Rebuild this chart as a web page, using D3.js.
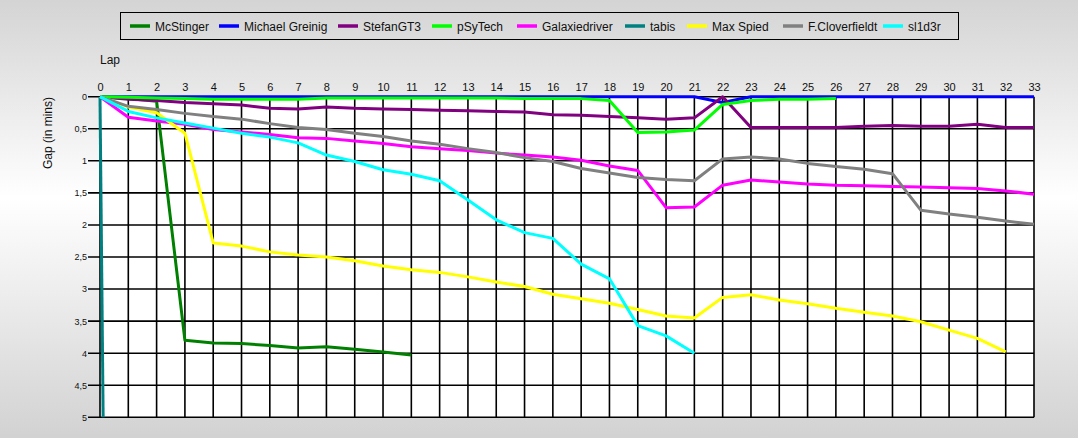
<!DOCTYPE html>
<html><head><meta charset="utf-8">
<script src="https://cdn.jsdelivr.net/npm/d3@7"></script>
<style>
html,body{margin:0;padding:0;overflow:hidden;}
svg{display:block;font-family:"Liberation Sans",Arial,sans-serif;}
</style></head>
<body>
<script>
const laps = d3.range(0, 34);
const xTicks = d3.range(0, 34);
const yTicks = [0, 0.5, 1, 1.5, 2, 2.5, 3, 3.5, 4, 4.5, 5];
const yTickLabels = ["0", "0,5", "1", "1,5", "2", "2,5", "3", "3,5", "4", "4,5", "5"];
const seriesNames = ["McStinger", "Michael Greinig", "StefanGT3", "pSyTech", "Galaxiedriver", "tabis", "Max Spied", "F.Cloverfieldt", "sl1d3r"];
const seriesColors = ["#008000", "#0000ff", "#800080", "#00ff00", "#ff00ff", "#008080", "#ffff00", "#808080", "#00ffff"];

const mcStinger = [0, 0.03, 0.07, 3.80, 3.84, 3.85, 3.88, 3.92, 3.90, 3.94, 3.98, 4.03];
const michaelGreinig = [0,0,0,0,0,0,0,0,0,0,0,0,0,0,0,0,0,0,0,0,0,0,0.09,0,0,0,0,0,0,0,0,0,0,0];
const stefanGT3 = [0, 0.04, 0.06, 0.09, 0.11, 0.13, 0.18, 0.19, 0.16, 0.18, 0.19, 0.20, 0.21, 0.22, 0.23, 0.24, 0.28, 0.29, 0.31, 0.33, 0.35, 0.33, 0, 0.48, 0.48, 0.48, 0.48, 0.46, 0.45, 0.46, 0.46, 0.43, 0.48, 0.48];
const pSyTech = [0, 0.01, 0.02, 0.03, 0.04, 0.04, 0.04, 0.04, 0.02, 0.02, 0.02, 0.02, 0.02, 0.02, 0.02, 0.03, 0.03, 0.03, 0.06, 0.56, 0.55, 0.52, 0.12, 0.06, 0.04, 0.04, 0.03];
const galaxiedriver = [0, 0.32, 0.38, 0.43, 0.51, 0.55, 0.59, 0.64, 0.65, 0.69, 0.73, 0.78, 0.81, 0.84, 0.88, 0.91, 0.94, 0.99, 1.08, 1.15, 1.73, 1.72, 1.38, 1.30, 1.33, 1.36, 1.38, 1.39, 1.40, 1.41, 1.42, 1.43, 1.47, 1.52];
const tabis = [0, 45];
const maxSpied = [0, 0.16, 0.25, 0.57, 2.28, 2.33, 2.42, 2.47, 2.50, 2.56, 2.64, 2.70, 2.74, 2.81, 2.89, 2.96, 3.08, 3.15, 3.22, 3.32, 3.42, 3.45, 3.13, 3.09, 3.17, 3.23, 3.30, 3.36, 3.42, 3.51, 3.64, 3.77, 3.98];
const fCloverfieldt = [0, 0.15, 0.20, 0.26, 0.31, 0.35, 0.42, 0.48, 0.51, 0.57, 0.62, 0.69, 0.74, 0.81, 0.87, 0.95, 1.01, 1.12, 1.19, 1.26, 1.29, 1.31, 0.97, 0.94, 0.97, 1.04, 1.09, 1.13, 1.20, 1.77, 1.83, 1.88, 1.94, 1.99];
const sl1d3r = [0, 0.23, 0.33, 0.41, 0.49, 0.57, 0.63, 0.72, 0.91, 1.01, 1.14, 1.21, 1.31, 1.61, 1.92, 2.12, 2.21, 2.61, 2.84, 3.57, 3.73, 4.00];

const seriesValues = [mcStinger, michaelGreinig, stefanGT3, pSyTech, galaxiedriver, tabis, maxSpied, fCloverfieldt, sl1d3r];

const W = 1078, H = 438;
const svg = d3.select("body").append("svg").attr("width", W).attr("height", H);
const defs = svg.append("defs");
const grad = defs.append("linearGradient").attr("id","bg").attr("x1",0).attr("y1",0).attr("x2",0).attr("y2",1);
grad.append("stop").attr("offset","0%").attr("stop-color","#d4d4d4");
grad.append("stop").attr("offset","45%").attr("stop-color","#ffffff");
grad.append("stop").attr("offset","100%").attr("stop-color","#d2d2d2");
svg.append("rect").attr("width",W).attr("height",H).attr("fill","url(#bg)");

const L = 100, R = 1034, T = 96.7, B = 417.3;
const x = d3.scaleLinear().domain([0, 33]).range([L, R]);
const y = d3.scaleLinear().domain([0, 5]).range([T, B]);

defs.append("clipPath").attr("id","clip").append("rect")
  .attr("x", L - 2).attr("y", T - 2).attr("width", R - L + 4).attr("height", B - T + 2);

svg.append("rect").attr("x",L).attr("y",T).attr("width",R-L).attr("height",B-T).attr("fill","#fff");

// grid
const grid = svg.append("g").attr("stroke","#000").attr("stroke-width",1.6);
grid.selectAll("line.v").data(xTicks).join("line")
  .attr("x1", d=>x(d)).attr("x2", d=>x(d)).attr("y1", T).attr("y2", B);
grid.selectAll("line.h").data(yTicks).join("line")
  .attr("x1", L - 12).attr("x2", R).attr("y1", d=>y(d)).attr("y2", d=>y(d));

// top axis labels
const xAxis = d3.axisTop(x).tickValues(xTicks).tickSize(0).tickPadding(6).tickFormat(d3.format("d"));
const gx = svg.append("g").attr("transform",`translate(0,${T})`).call(xAxis);
gx.select(".domain").remove();
gx.selectAll("text").attr("font-size", 11).attr("fill","#111").attr("font-family","Liberation Sans, Arial, sans-serif");

// left axis labels
const yAxis = d3.axisLeft(y).tickValues(yTicks).tickSize(0).tickPadding(13).tickFormat((d,i)=>yTickLabels[i]);
const gy = svg.append("g").attr("transform",`translate(${L},0)`).call(yAxis);
gy.select(".domain").remove();
gy.selectAll("text").attr("font-size", 9).attr("fill","#111").attr("font-family","Liberation Sans, Arial, sans-serif");

svg.append("text").attr("x", 100).attr("y", 64).attr("font-size", 12).attr("fill","#111").text("Lap");
svg.append("text").attr("transform","translate(52,133) rotate(-90)").attr("text-anchor","middle")
  .attr("font-size", 12).attr("fill","#111").text("Gap (in mins)");

// lines
const line = d3.line().x((d,i)=>x(i)).y(d=>y(d));
const lines = svg.append("g").attr("clip-path","url(#clip)");
seriesValues.forEach((vals, k) => {
  lines.append("path").datum(vals).attr("d", line).attr("fill","none")
    .attr("stroke", seriesColors[k]).attr("stroke-width", 3).attr("stroke-linejoin","round");
});

// legend
const lg = svg.append("g");
lg.append("rect").attr("x", 120.5).attr("y", 12.5).attr("width", 838).attr("height", 27)
  .attr("fill","none").attr("stroke","#000").attr("stroke-width",1);
const swX = [130, 219, 338, 432, 517, 625, 687, 783, 883];
seriesNames.forEach((n,k) => {
  lg.append("line").attr("x1", swX[k]).attr("x2", swX[k]+20).attr("y1", 26).attr("y2", 26)
    .attr("stroke", seriesColors[k]).attr("stroke-width", 3.5);
  lg.append("text").attr("x", swX[k]+25).attr("y", 30.5).attr("font-size", 12).attr("fill","#111").text(n);
});
</script>
</body></html>
